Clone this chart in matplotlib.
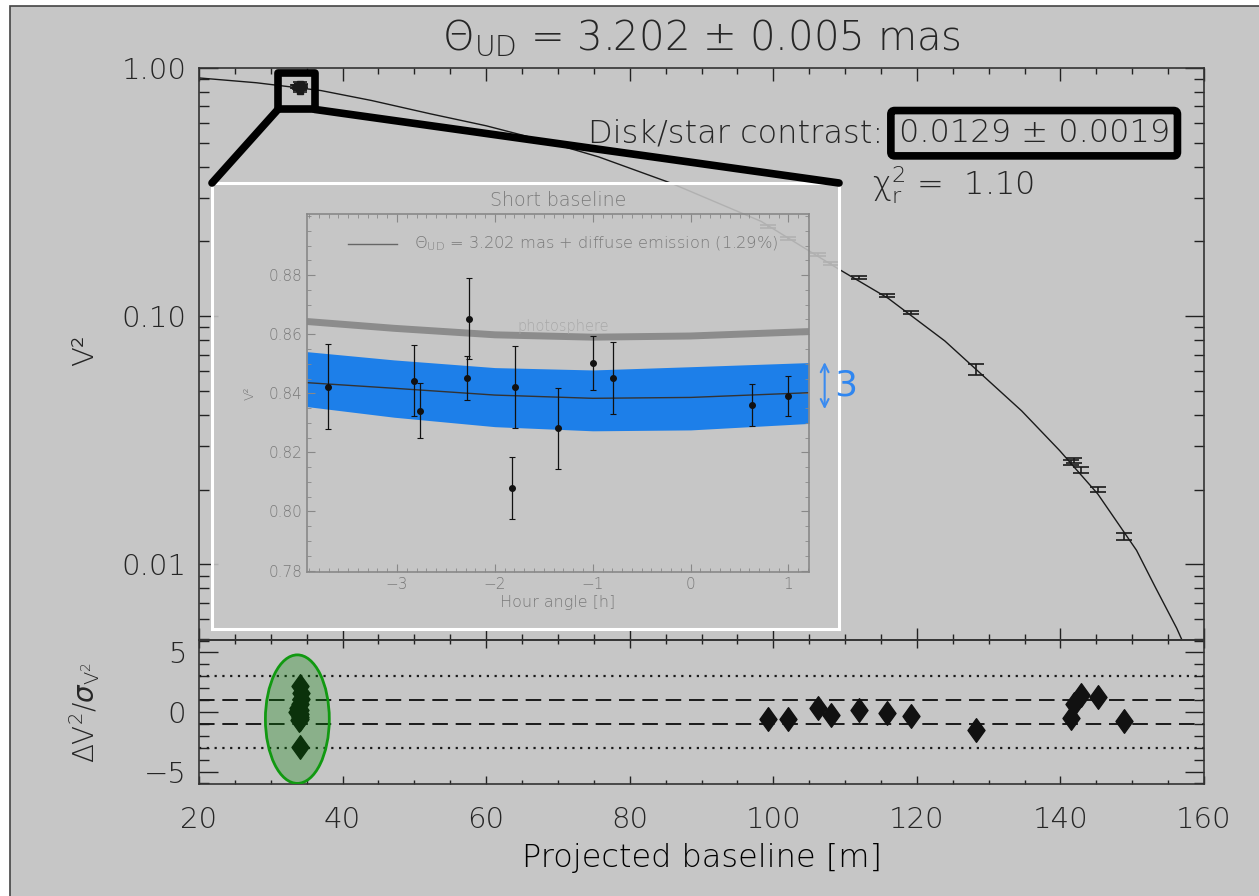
import numpy as np
import matplotlib
matplotlib.use("Agg")
import matplotlib.pyplot as plt
from matplotlib.patches import Rectangle, Ellipse, ConnectionPatch, Path
from matplotlib.ticker import FixedLocator, MultipleLocator, NullFormatter

plt.rcParams['font.family'] = ['DejaVu Sans']
plt.rcParams['font.weight'] = 'light'
plt.rcParams['axes.labelweight'] = 'light'
plt.rcParams['axes.titleweight'] = 'light'
plt.rcParams['text.color'] = '#262626'
plt.rcParams['mathtext.fontset'] = 'dejavusans'

BG = '#c6c6c6'
INK = '#1a1a1a'

# ---- data ----
# uniform-disk model curve
model_b = [20.0, 28.0, 37.0, 44.0, 52.3, 60.0, 67.5, 75.7, 85.7, 98.3, 108.9, 116.0,
           123.9, 134.6, 139.9, 145.2, 150.6, 153.2, 156.2, 157.0]
model_v2 = [0.912, 0.872, 0.811, 0.740, 0.653, 0.585, 0.514, 0.438, 0.344, 0.241, 0.156,
            0.118, 0.0794, 0.0415, 0.0287, 0.0192, 0.01138, 0.0081, 0.00552, 0.0049]

# long baselines
long_b = [99.2, 102.0, 106.2, 108.1, 111.9, 115.8, 119.2, 128.3, 141.5, 141.9, 142.8, 145.2, 148.9]
long_v2 = [0.230, 0.206, 0.177, 0.163, 0.1426, 0.121, 0.1038, 0.0611, 0.0258, 0.0262, 0.0240, 0.0200, 0.01295]
long_err = [0.004, 0.003, 0.0025, 0.0025, 0.002, 0.0017, 0.0015, 0.003, 0.0006, 0.0006, 0.0006, 0.0005, 0.0004]
long_res = [-0.59, -0.59, 0.36, -0.25, 0.14, -0.06, -0.31, -1.51, -0.53, 0.64, 1.43, 1.29, -0.76]

# short baseline (zoomed in the inset)
short_b = [33.6, 33.8, 33.9, 34.0, 34.0, 34.1, 34.1, 34.1, 34.2, 34.2, 34.1, 34.0]
short_ha = [-3.71, -2.83, -2.77, -2.29, -2.26, -1.79, -1.83, -1.36, -1.00, -0.79, 0.625, 1.00]
short_v2 = [0.8423, 0.8442, 0.8341, 0.8451, 0.8652, 0.8421, 0.8081, 0.8281, 0.8503, 0.8451, 0.8360, 0.8391]
short_err = [0.0144, 0.0120, 0.0093, 0.0075, 0.0137, 0.0140, 0.0105, 0.0137, 0.0092, 0.0122, 0.0071, 0.0067]
short_res = [0.0, 0.3, -0.7, 0.7, 2.2, 0.2, -2.9, -0.6, 1.6, 1.1, -0.4, -0.2]

# inset model curves vs hour angle
curve_ha = [-3.92, -3.03, -2.0, -1.0, 0.0, 1.21]
fit_v2 = [0.8436, 0.8417, 0.8394, 0.8383, 0.8386, 0.8402]
band_hi = [0.8541, 0.8513, 0.8487, 0.8479, 0.8490, 0.8504]
band_lo = [0.8355, 0.8319, 0.8287, 0.8273, 0.8276, 0.8298]
photo_v2 = [0.8643, 0.8620, 0.8598, 0.8590, 0.8594, 0.8609]

W, H = 1259, 896
fig = plt.figure(figsize=(W / 100, H / 100), dpi=100, facecolor='white')
fig.patches.append(Rectangle((10 / W, -0.1), 1.2, (H - 6) / H + 0.1, transform=fig.transFigure,
                             facecolor=BG, edgecolor='#444444', lw=1.2, zorder=-10))

ax = fig.add_axes([199 / W, (H - 640) / H, 1005 / W, 572 / H])
axr = fig.add_axes([199 / W, (H - 784) / H, 1005 / W, 144 / H], sharex=ax)
for a in (ax, axr):
    a.set_facecolor('none')
    for s in a.spines.values():
        s.set_color('#333333')
        s.set_linewidth(1.2)

# upper panel
ax.set_yscale('log')
ax.set_xlim(20, 160)
ax.set_ylim(0.00495, 1.0)
ax.plot(model_b, model_v2, color=INK, lw=1.0)
ax.errorbar(long_b, long_v2, yerr=long_err, fmt='none', ecolor=INK, elinewidth=1.2, capsize=6, capthick=1.2)
ax.errorbar(short_b, short_v2, yerr=short_err, fmt='s', color=INK, ms=5, elinewidth=1.2, capsize=5, capthick=1.2)
ax.yaxis.set_major_locator(FixedLocator([0.01, 0.1, 1.0]))
ax.set_yticklabels(['0.01', '0.10', '1.00'])
ax.yaxis.set_minor_locator(FixedLocator([m * d for d in (0.001, 0.01, 0.1) for m in range(2, 10)]))
ax.yaxis.set_minor_formatter(NullFormatter())
ax.tick_params(axis='y', which='major', direction='in', length=14, width=1, labelsize=21, pad=9,
               left=True, right=True, color='#222222', labelcolor='#262626')
ax.tick_params(axis='y', which='minor', direction='in', length=7, width=1, left=True, right=True, color='#222222')
ax.xaxis.set_major_locator(MultipleLocator(20))
ax.xaxis.set_minor_locator(MultipleLocator(5))
ax.tick_params(axis='x', which='major', direction='in', length=9, width=1, top=True, bottom=True,
               labelbottom=False, color='#222222')
ax.tick_params(axis='x', which='minor', direction='in', length=4.5, width=1, top=True, bottom=True, color='#222222')

# residual panel
axr.set_ylim(-6.05, 6.05)
for lev in (1, -1):
    axr.axhline(lev, color=INK, lw=1.4, linestyle=(0, (8, 4)))
for lev in (3, -3):
    axr.axhline(lev, color=INK, lw=1.6, linestyle=(0, (1, 2.5)))
diamond = Path([(0, 1), (0.72, 0), (0, -1), (-0.72, 0), (0, 1)], closed=True)
axr.plot(long_b, long_res, linestyle='none', marker=diamond, ms=17, color='#111111')
axr.plot(short_b, short_res, linestyle='none', marker=diamond, ms=17, color='#111111')
axr.add_patch(Ellipse((33.7, -0.6), 8.9, 10.8, facecolor=(0.0, 0.5, 0.0, 0.3), edgecolor='#119911', lw=2, zorder=5))
axr.yaxis.set_major_locator(FixedLocator([-5, 0, 5]))
axr.yaxis.set_minor_locator(MultipleLocator(1))
axr.tick_params(axis='y', which='major', direction='in', length=14, width=1, labelsize=21, pad=9,
                left=True, right=True, color='#222222', labelcolor='#262626')
axr.tick_params(axis='y', which='minor', direction='in', length=7, width=1, left=True, right=True, color='#222222')
axr.tick_params(axis='x', which='major', direction='in', length=6, width=1, top=True, bottom=True,
                labelsize=21, pad=16, color='#222222', labelcolor='#262626')
axr.tick_params(axis='x', which='minor', direction='in', length=3, width=1, top=True, bottom=True, color='#222222')
axr.set_xlabel('Projected baseline [m]', fontsize=23, labelpad=6)

fig.text(85 / W, 1 - 350 / H, 'V²', rotation=90, fontsize=21, ha='center', va='center')
fig.text(85 / W, 1 - 712 / H, r'$\Delta$V$^2$/$\sigma_{\mathrm{V}^2}$', rotation=90, fontsize=20,
         ha='center', va='center')
fig.text(701 / W, 1 - 38 / H, r'Θ$_{\mathrm{UD}}$ = 3.202 ± 0.005 mas', fontsize=29, ha='center', va='center')

ax.text(0.681, 0.886, 'Disk/star contrast:', transform=ax.transAxes, fontsize=23, ha='right', va='center')
ax.text(0.831, 0.886, '0.0129 ± 0.0019', transform=ax.transAxes, fontsize=23, ha='center', va='center',
        bbox=dict(boxstyle='round,pad=0.24,rounding_size=0.12', facecolor='none', edgecolor='black', lw=5.5))
ax.text(0.670, 0.795, r'χ$_{\mathrm{r}}^{2}$ =  1.10', transform=ax.transAxes, fontsize=23, ha='left', va='center')

# zoom box on the short-baseline points
ax.add_patch(Rectangle((31.0, 0.681), 5.1, 0.955 - 0.681, facecolor='none', edgecolor='black', lw=5.5,
                       joinstyle='round', zorder=6))

# inset (picture of the short-baseline fit)
ins = fig.add_axes([212 / W, (H - 629) / H, 627 / W, 446 / H])
ins.set_facecolor((0.775, 0.775, 0.775, 0.88))
ins.set_xticks([])
ins.set_yticks([])
for s in ins.spines.values():
    s.set_color('white')
    s.set_linewidth(2.2)

GR = '#888888'
GT = '#7a7a7a'
ia = fig.add_axes([307 / W, (H - 572) / H, 502 / W, 358 / H])
ia.set_facecolor('none')
ia.set_xlim(-3.92, 1.21)
ia.set_ylim(0.7795, 0.9007)
ia.fill_between(curve_ha, band_lo, band_hi, color='#1d7fe9', lw=0)
ia.plot(curve_ha, fit_v2, color='#333333', lw=1.0)
ia.plot(curve_ha, photo_v2, color='#8c8c8c', lw=5)
ia.errorbar(short_ha, short_v2, yerr=short_err, fmt='o', color='#111111', ms=4, elinewidth=0.9,
            capsize=2, capthick=0.8)
ia.plot([-3.5, -3.0], [0.8905, 0.8905], color='#666666', lw=1.0)
ia.text(-2.83, 0.8905, r'Θ$_{\mathrm{UD}}$ = 3.202 mas + diffuse emission (1.29%)', fontsize=11.7,
        color=GT, va='center', ha='left')
ia.text(-1.3, 0.8625, 'photosphere', fontsize=10.5, color='#a8a8a8', ha='center', va='center')
ia.set_title('Short baseline', fontsize=13.7, color=GT, pad=6)
ia.set_xlabel('Hour angle [h]', fontsize=11.5, color=GT, labelpad=2)
ia.text(-4.51, 0.840, 'V²', rotation=90, fontsize=9, color=GT, ha='center', va='center', clip_on=False)
ia.xaxis.set_major_locator(MultipleLocator(1))
ia.xaxis.set_minor_locator(MultipleLocator(0.1))
ia.yaxis.set_major_locator(FixedLocator([0.78, 0.80, 0.82, 0.84, 0.86, 0.88]))
ia.yaxis.set_minor_locator(MultipleLocator(0.005))
ia.tick_params(which='both', direction='in', top=True, right=True, color=GR, labelcolor=GT, labelsize=11)
ia.tick_params(which='major', length=6)
ia.tick_params(which='minor', length=3)
for s in ia.spines.values():
    s.set_color(GR)
    s.set_linewidth(1.2)

# blue 3-sigma arrow beside the band
ia.annotate('', xy=(1.37, 0.8337), xytext=(1.37, 0.8515), xycoords='data', annotation_clip=False,
            arrowprops=dict(arrowstyle='<->', color='#3a8bf0', lw=1.5, mutation_scale=14))
ia.text(1.47, 0.8425, '3', fontsize=26, fontweight='normal', color='#2f86f0', ha='left', va='center',
        clip_on=False)

# connectors from the zoom box to the inset
for xa, xb in ((31.0, 0.0), (36.1, 1.0)):
    con = ConnectionPatch(xyA=(xa, 0.681), coordsA=ax.transData, xyB=(xb, 1.0), coordsB=ins.transAxes,
                          color='black', lw=5.5, capstyle='round')
    fig.add_artist(con)

fig.savefig('out.png', dpi=100, facecolor='white')
